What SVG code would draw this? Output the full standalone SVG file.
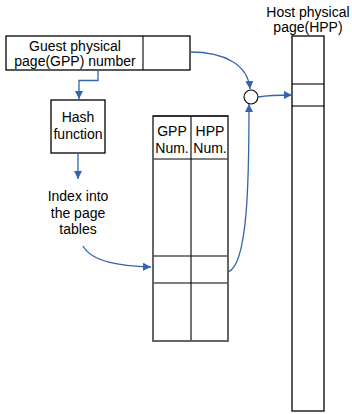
<svg xmlns="http://www.w3.org/2000/svg" width="352" height="414" viewBox="0 0 352 414">
<style>
text{font-family:"Liberation Sans",Arial,sans-serif;font-size:14px;fill:#000;text-anchor:middle}
.box{fill:#fff;stroke:#000;stroke-width:1.3}
.tbl{fill:none;stroke:#555;stroke-width:1.8}
.ln{stroke:#000;stroke-width:1.1;fill:none}
.con{stroke:#3465a8;stroke-width:1.3;fill:none;marker-end:url(#ah)}
</style>
<defs>
<marker id="ah" viewBox="0 0 10 10" refX="10" refY="5" markerWidth="8" markerHeight="8" markerUnits="userSpaceOnUse" orient="auto">
<path d="M0,0 L10,5 L0,10 z" fill="#3465a8"/>
</marker>
</defs>
<g id="gpp">
<rect class="box" x="6" y="36" width="184" height="34"/>
<line class="ln" x1="143" y1="36" x2="143" y2="70"/>
<text x="75" y="51">Guest physical</text>
<text x="75" y="66">page(GPP) number</text>
</g>
<g id="hash">
<rect class="box" x="51" y="100" width="54" height="53"/>
<text x="78" y="122">Hash</text>
<text x="78" y="139">function</text>
</g>
<g id="index">
<text x="78" y="201">Index into</text>
<text x="78" y="218">the page</text>
<text x="78" y="234">tables</text>
</g>
<g id="table">
<rect x="153" y="116" width="75" height="225" fill="#fff"/>
<line class="ln" x1="153" y1="159" x2="228" y2="159"/>
<line class="ln" x1="153" y1="256" x2="228" y2="256" stroke="#555"/>
<line class="ln" x1="153" y1="283" x2="228" y2="283" stroke="#555"/>
<line class="ln" x1="191" y1="116" x2="191" y2="341"/>
<rect class="tbl" x="153" y="116" width="75" height="225"/>
<line class="ln" x1="153" y1="116" x2="228" y2="116"/>
<text x="172" y="136">GPP</text>
<text x="172" y="153">Num.</text>
<text x="210" y="136">HPP</text>
<text x="210" y="153">Num.</text>
</g>
<g id="circle">
<circle cx="251" cy="97" r="7" fill="#fff" stroke="#000" stroke-width="1.1"/>
</g>
<g id="hpp">
<rect class="box" x="292" y="36" width="32" height="375"/>
<line class="ln" x1="292" y1="84" x2="324" y2="84"/>
<line class="ln" x1="292" y1="106" x2="324" y2="106"/>
<text x="308" y="17">Host physical</text>
<text x="308" y="32">page(HPP)</text>
</g>
<g id="connectors">
<path class="con" d="M98,70 V80.5 H79 V99"/>
<path class="con" d="M78,153 V179"/>
<path class="con" d="M83,246 C92,262 120,266 151,267"/>
<path class="con" d="M228,272 C248,265 249,180 249,104"/>
<path class="con" d="M190,52 C225,52 248,65 250,89"/>
<path class="con" d="M258,97 C270,95 280,95 292,95"/>
</g>
</svg>
